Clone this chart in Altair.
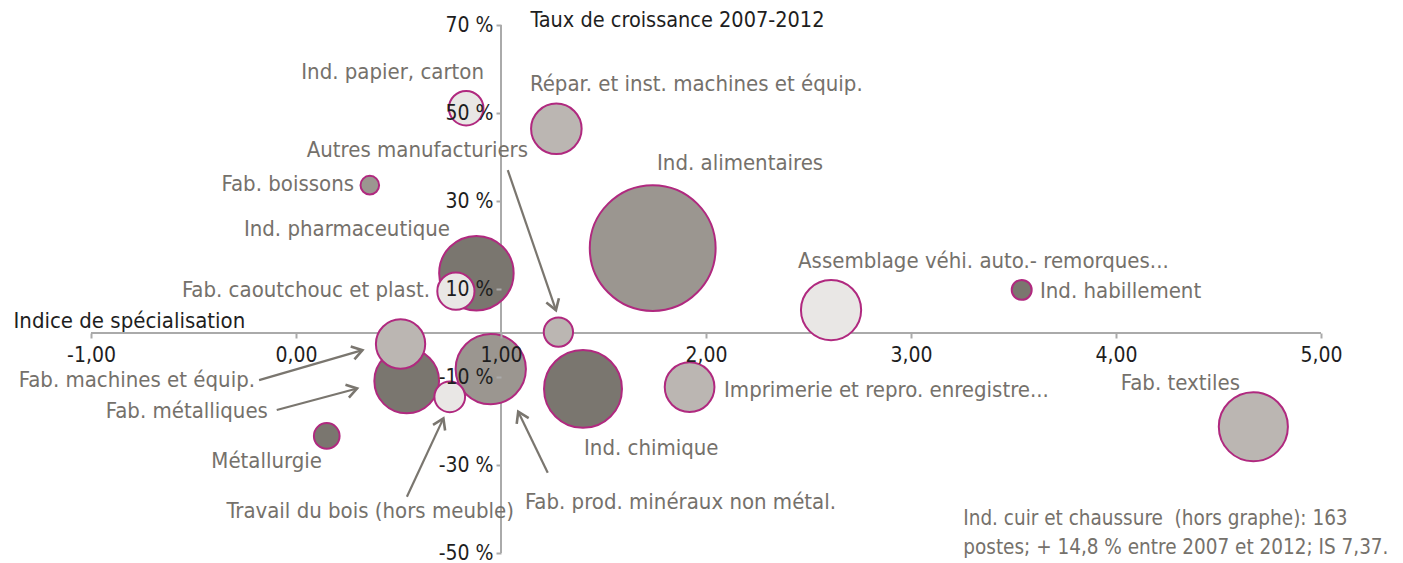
import math
import altair as alt
import pandas as pd

# ---------------- data ----------------
secteurs = [
    "Ind. papier, carton",
    "Répar. et inst. machines et équip.",
    "Fab. boissons",
    "Ind. pharmaceutique",
    "Fab. caoutchouc et plast.",
    "Autres manufacturiers",
    "Ind. alimentaires",
    "Assemblage véhi. auto.- remorques...",
    "Ind. habillement",
    "Fab. textiles",
    "Fab. machines et équip.",
    "Fab. métalliques",
    "Travail du bois (hors meuble)",
    "Fab. prod. minéraux non métal.",
    "Métallurgie",
    "Ind. chimique",
    "Imprimerie et repro. enregistre...",
]
indice = [0.83, 1.27, 0.36, 0.88, 0.78, 1.28, 1.74, 2.61, 3.54, 4.67,
          0.51, 0.54, 0.75, 0.95, 0.15, 1.40, 1.92]
croissance = [51.1, 46.4, 33.6, 13.6, 9.5, 0.2, 19.3, 5.2, 9.8, -21.3,
              -2.5, -10.9, -14.5, -8.2, -23.4, -12.7, -12.3]
postes = [570, 1220, 165, 2650, 660, 410, 7560, 1730, 190, 2280,
          1160, 2000, 450, 2360, 315, 2900, 1180]
teinte = ["très clair", "clair", "moyen", "foncé", "très clair", "clair", "moyen",
          "très clair", "foncé", "clair", "clair", "foncé", "très clair", "moyen",
          "foncé", "foncé", "clair"]

# label anchors (data units) and alignment
label_x = [0.917, 1.141, 0.283, 0.751, 0.654, 1.132, 1.761, 2.449, 3.629, 4.605,
           -0.20, -0.137, 1.063, 1.117, 0.127, 1.405, 2.088]
label_y = [59.3, 56.6, 33.9, 23.6, 9.8, 41.6, 38.6, 16.4, 9.5, -11.4,
           -10.7, -17.7, -40.5, -38.4, -29.1, -26.1, -13.0]
label_align = ["right", "left", "right", "right", "right", "right", "left", "left",
               "left", "right", "right", "right", "right", "left", "right", "left", "left"]

# arrows (data units)
fleche_secteur = ["Autres manufacturiers", "Fab. machines et équip.", "Fab. métalliques",
                  "Travail du bois (hors meuble)", "Fab. prod. minéraux non métal."]
fleche_x_debut = [1.033, -0.18, -0.094, 0.541, 1.228]
fleche_y_debut = [37.0, -10.7, -17.5, -37.2, -31.75]
fleche_x_pointe = [1.268, 0.324, 0.298, 0.719, 1.084]
fleche_y_pointe = [5.2, -3.9, -12.6, -19.4, -17.9]

note_lignes = ["Ind. cuir et chaussure \u00a0(hors graphe): 163",
               "postes; + 14,8 % entre 2007 et 2012; IS 7,37."]
note_x = [3.255, 3.255]
note_y = [-42.3, -48.9]

x_ticks = [-1, 0, 1, 2, 3, 4, 5]
y_ticks = [70, 50, 30, 10, -10, -30, -50]
x_domain = [-1, 5]
y_domain = [-50, 70]

# ---------------- styling ----------------
W, H = 1230, 528
FONT = "DejaVu Sans Condensed, DejaVu Sans, sans-serif"
GREY_TXT = "#75716b"
AXIS_GREY = "#aaaaaa"
ARROW = "#7a766f"
STROKE = "#b0297f"
LABEL_SIZE = 22

px_x = W / (x_domain[1] - x_domain[0])
px_y = H / (y_domain[1] - y_domain[0])
y_axis_offset = -px_x * (1 - x_domain[0])
x_axis_offset = -px_y * (0 - y_domain[0])

XS = alt.Scale(domain=x_domain, nice=False, zero=False)
YS = alt.Scale(domain=y_domain, nice=False, zero=False)

X_AXIS = alt.Axis(
    values=x_ticks, offset=x_axis_offset, domain=False, grid=False,
    tickColor=AXIS_GREY, tickSize=5, tickWidth=2,
    labelExpr="(datum.value < 0 ? '-' : '') + replace(format(abs(datum.value), '.2f'), '.', ',')",
    labelFont=FONT, labelFontSize=21, labelColor="#1e1e1e", labelPadding=6,
    labelFlush=False, labelOverlap=False,
    title="Indice de spécialisation", titleX=-78, titleY=-13, titleAlign="left",
    titleBaseline="middle", titleAngle=0, titleFont=FONT, titleFontSize=22,
    titleFontWeight="normal", titleColor="#1e1e1e", zindex=1,
)
Y_AXIS = alt.Axis(
    values=y_ticks, offset=y_axis_offset, domain=False, grid=False,
    tickColor=AXIS_GREY, tickSize=5, tickWidth=2,
    labelExpr="datum.value + ' %'",
    labelFont=FONT, labelFontSize=21, labelColor="#1e1e1e", labelPadding=3,
    labelFlush=False, labelOverlap=False, labelBaseline="middle",
    title="Taux de croissance 2007-2012", titleX=29, titleY=-16, titleAlign="left",
    titleBaseline="top", titleAngle=0, titleFont=FONT, titleFontSize=21.5,
    titleFontWeight="normal", titleColor="#1e1e1e", zindex=1,
)


def xe(f):
    return alt.X(f, type="quantitative", scale=XS, axis=X_AXIS)


def ye(f):
    return alt.Y(f, type="quantitative", scale=YS, axis=Y_AXIS)


# ---------------- tables ----------------
bulles = pd.DataFrame({
    "secteur": secteurs, "indice": indice, "croissance": croissance,
    "postes": postes, "teinte": teinte,
    "lx": label_x, "ly": label_y, "align": label_align,
})

axes_df = pd.DataFrame({
    "x": [x_domain[0], 1], "x2": [x_domain[1], 1],
    "y": [0, y_domain[0]], "y2": [0, y_domain[1]],
})

angles = []
for xa, ya, xb, yb in zip(fleche_x_debut, fleche_y_debut, fleche_x_pointe, fleche_y_pointe):
    dxp = (xb - xa) * px_x
    dyp = -(yb - ya) * px_y
    angles.append(math.degrees(math.atan2(dyp, dxp)) % 360)

fleches = pd.DataFrame({
    "secteur": fleche_secteur, "x0": fleche_x_debut, "y0": fleche_y_debut,
    "x1": fleche_x_pointe, "y1": fleche_y_pointe, "angle": angles,
})

note = pd.DataFrame({"texte": note_lignes, "x": note_x, "y": note_y})

# ---------------- layers ----------------
axis_lines = alt.Chart(axes_df).mark_rule(color=AXIS_GREY, strokeWidth=2).encode(
    x=xe("x"), x2="x2", y=ye("y"), y2="y2"
)

circles = alt.Chart(bulles).mark_circle(opacity=1, stroke=STROKE, strokeWidth=2).encode(
    x=xe("indice"),
    y=ye("croissance"),
    size=alt.Size("postes:Q", scale=alt.Scale(type="linear", domain=[0, 8000],
                                              range=[0, math.pi * 8000 / 1.5]), legend=None),
    color=alt.Color("teinte:N", scale=alt.Scale(
        domain=["très clair", "clair", "moyen", "foncé"],
        range=["#e9e7e5", "#bbb6b2", "#9b9690", "#7a766f"]), legend=None),
    order=alt.Order("postes:Q", sort="descending"),
)

lab_left = alt.Chart(bulles).transform_filter("datum.align == 'left'").mark_text(
    align="left", baseline="middle", font=FONT, fontSize=LABEL_SIZE, color=GREY_TXT
).encode(x=xe("lx"), y=ye("ly"), text="secteur:N")

lab_right = alt.Chart(bulles).transform_filter("datum.align == 'right'").mark_text(
    align="right", baseline="middle", font=FONT, fontSize=LABEL_SIZE, color=GREY_TXT
).encode(x=xe("lx"), y=ye("ly"), text="secteur:N")

arrow_lines = alt.Chart(fleches).mark_rule(color=ARROW, strokeWidth=2.2).encode(
    x=xe("x0"), y=ye("y0"), x2="x1", y2="y1"
)

arrow_heads = alt.Chart(fleches).mark_point(
    shape="M -1 -0.65 L 0 0 L -1 0.65", filled=False, size=420, strokeWidth=2.6,
    color=ARROW, opacity=1, strokeJoin="miter"
).encode(x=xe("x1"), y=ye("y1"), angle=alt.Angle("angle:Q", scale=None))

note_txt = alt.Chart(note).mark_text(
    align="left", baseline="middle", font=FONT, fontSize=20.5, color=GREY_TXT
).encode(x=xe("x"), y=ye("y"), text="texte:N")

chart = alt.layer(
    axis_lines, circles, arrow_lines, arrow_heads, lab_left, lab_right, note_txt
).properties(
    width=W, height=H,
    padding={"left": 83, "top": 17, "right": 74, "bottom": 10},
    autosize=alt.AutoSizeParams(type="none"),
    background="white",
).configure_view(stroke="transparent")

chart.save("out.html", embed_options={"renderer": "svg", "actions": False})
